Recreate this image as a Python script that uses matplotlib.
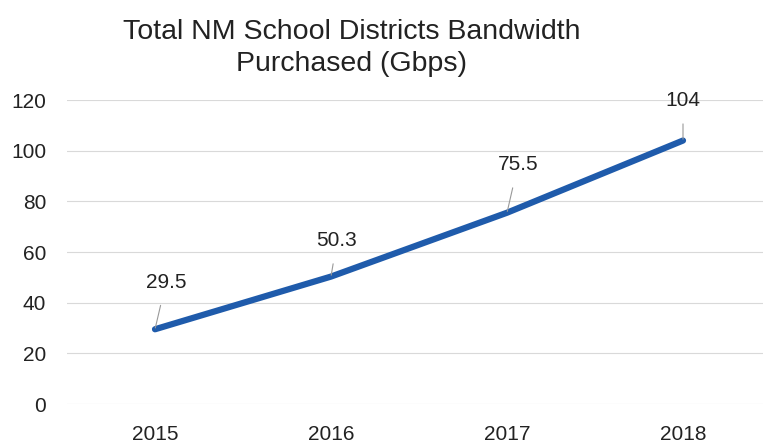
import matplotlib.pyplot as plt

years = ['2015', '2016', '2017', '2018']
bandwidth = [29.5, 50.3, 75.5, 104]
labels = ['29.5', '50.3', '75.5', '104']
# label offsets in pixels (dx, dy) from each point
offsets = [(11, 47), (6, 36), (11, 48), (0, 40)]

plt.rcParams['font.family'] = ['Liberation Sans', 'DejaVu Sans']

fig = plt.figure(figsize=(7.63, 4.48), dpi=100)
ax = fig.add_axes([67 / 763, 44 / 448, 704 / 763, 304 / 448])

x = range(len(years))
ax.plot(x, bandwidth, color='#1f5bab', linewidth=4.5, solid_capstyle='round')

for i, (v, lab) in enumerate(zip(bandwidth, labels)):
    dx, dy = offsets[i]
    ax.annotate(lab, (i, v), xytext=(dx, dy), textcoords='offset pixels',
                ha='center', va='center', fontsize=15, color='#222222',
                arrowprops=dict(arrowstyle='-', color='#999999', lw=0.8,
                                shrinkA=8, shrinkB=1))

ax.set_xlim(-0.5, 3.5)
ax.set_ylim(0, 120)
ax.set_yticks(range(0, 121, 20))
ax.set_xticks(list(x))
ax.set_xticklabels(years)
ax.tick_params(axis='both', length=0, labelsize=15, colors='#222222')
ax.tick_params(axis='y', pad=15)
ax.tick_params(axis='x', pad=15)
ax.grid(axis='y', color='#d9d9d9', linewidth=0.8)
ax.set_axisbelow(True)
for s in ax.spines.values():
    s.set_visible(False)

fig.text(0.461, 0.958, 'Total NM School Districts Bandwidth\nPurchased (Gbps)',
         ha='center', va='top', fontsize=20.5, color='#222222', linespacing=1.3)

plt.savefig('out.png', dpi=100)
